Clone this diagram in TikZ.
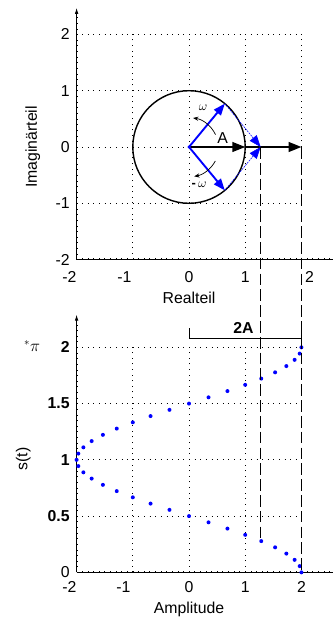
\documentclass[tikz,border=0pt]{standalone}
\usepackage{fontspec}
\setmainfont{Liberation Sans}
\usetikzlibrary{calc, positioning}
\usetikzlibrary{arrows.meta}

\newcommand{\figfont}{\fontsize{13.5}{16}\selectfont}

\tikzset{
  gridline/.style={line width=0.7pt, dash pattern=on 0.8pt off 4pt},
  longdash/.style={line width=0.7pt, dash pattern=on 10pt off 3.5pt},
  axisline/.style={line width=0.6pt},
  minortick/.style={line width=0.4pt},
  vecblue/.style={blue, line width=1.6pt, -{Triangle[length=10pt,width=7.5pt]}},
  projblue/.style={blue, line width=0.5pt, dash pattern=on 1.5pt off 0.8pt, -{Triangle[length=10pt,width=7.5pt]}},
  vecblack/.style={black, line width=1.2pt, -{Triangle[length=11pt,width=8.5pt]}},
  turn/.style={line width=0.6pt, -{Stealth[length=4.5pt,width=3.5pt]}},
  ticklab/.style={inner sep=0pt},
  boldlab/.style={inner sep=0pt, font=\figfont\bfseries},
  greek/.style={inner sep=0pt, font=\fontsize{11}{13}\selectfont},
}

\begin{document}
\begin{tikzpicture}[font=\figfont]
\useasboundingbox (0,0) rectangle (9.96,-18.57);
\def\ux{1.686}
\def\uyt{1.689}
\def\uyb{3.375}
\def\phase{0.28}
\pgfmathsetmacro{\ang}{\phase*180}
\pgfmathsetmacro{\xp}{2*cos(\ang)}

% Zeigerdiagramm
\begin{scope}[shift={(5.67,-4.41)}, x=\ux cm, y=\uyt cm]
  \coordinate (O) at (0,0);
  \coordinate (U) at (\ang:1);
  \coordinate (L) at (-\ang:1);
  \coordinate (S) at (\xp,0);
  \coordinate (E1) at (1,0);
  \coordinate (E2) at (2,0);

  \foreach \t in {-1.9,-1.8,...,2.45} {
    \draw[minortick] (-2,\t) -- ++(0.03,0);
  }
  \foreach \t in {-1.9,-1.8,...,2.55} {
    \draw[minortick] (\t,-2) -- ++(0,0.03);
  }

  \foreach \g in {-1,0,1,2} {
    \draw[gridline] (-2,\g) -- (2,\g);
  }
  \foreach \g in {-1,0,1} {
    \draw[gridline] (\g,-2) -- (\g,2);
  }
  \draw[gridline] (2,0) -- (2,2);

  \draw[axisline, -{Latex[length=5pt,width=3pt]}] (-2,-2) -- (-2,2.47);
  \draw[axisline] (-2,-2) -- (2.6,-2);

  \foreach \v/\n in {-2/a,-1/b,0/c,1/d,2/e} {
    \node[ticklab, anchor=east] (yl\n) at (-2.12,\v) {\v};
  }
  \node[ticklab, anchor=east] (xla) at (-2.0,-2.31) {-2};
  \node[ticklab, anchor=east] (xlb) at (-1.02,-2.31) {-1};
  \node[ticklab] (xlc) at (0,-2.31) {0};
  \node[ticklab] (xld) at (1,-2.31) {1};
  \node[ticklab, anchor=west] (xle) at (2.06,-2.31) {2};

  \node (real) at (0,-2.68) {Realteil};
  \node[rotate=90] (imag) at (-2.78,0) {Imaginärteil};

  \draw[line width=1.2pt] (O) circle (1);

  \draw[vecblack] (O) -- (E1);
  \draw[vecblack] (E1) -- (E2);
  \draw[projblue] (U) -- (S);
  \draw[projblue] (L) -- (S);
  \draw[vecblue] (O) -- (U);
  \draw[vecblue] (O) -- (L);
  \fill[blue] (O) circle (1.4pt);

  \draw[turn] (25:0.52) arc[start angle=25, end angle=82, radius=0.52];
  \draw[turn] (-28:0.53) arc[start angle=-28, end angle=-80, radius=0.53];
  \node[greek] (om) at (0.25,0.69) {$\omega$};
  \node[greek] (mom) at (0.18,-0.67) {\textbf{-}\,$\omega$};
  \node[inner sep=0pt] (amp) at (0.6,0.16) {A};
\end{scope}

% Zeitverlauf
\begin{scope}[shift={(5.67,-17.17)}, x=\ux cm, y=\uyb cm]
  \coordinate (Sb) at (\xp,\phase);
  \coordinate (E2b) at (2,0);

  \foreach \t in {0.05,0.1,...,2.26} {
    \draw[minortick] (-2,\t) -- ++(0.03,0);
  }
  \foreach \t in {-1.9,-1.8,...,2.55} {
    \draw[minortick] (\t,0) -- ++(0,0.015);
  }

  \foreach \g in {0.5,1,1.5,2} {
    \draw[gridline] (-2,\g) -- (2,\g);
  }
  \foreach \g in {-1,0,1} {
    \draw[gridline] (\g,0) -- (\g,2);
  }

  \draw[axisline, -{Latex[length=5pt,width=3pt]}] (-2,0) -- (-2,2.29);
  \draw[axisline] (-2,0) -- (2.6,0);

  \foreach \k in {0,...,36} {
    \fill[blue] ({2*cos(\k*10)},{\k/18}) circle (1.7pt);
  }

  \foreach \v/\n in {0.5/a,1/b,1.5/c,2/d} {
    \node[boldlab, anchor=east] (sl\n) at (-2.12,\v) {\v};
  }
  \node[ticklab, anchor=east] (sl0) at (-2.12,0) {0};
  \node[ticklab, anchor=east] (al1) at (-2.0,-0.13) {-2};
  \node[ticklab, anchor=east] (al2) at (-1.04,-0.13) {-1};
  \node[ticklab] (al3) at (0,-0.13) {0};
  \node[ticklab] (al4) at (1,-0.13) {1};
  \node[ticklab] (al5) at (2,-0.13) {2};

  \node (ampl) at (0,-0.326) {Amplitude};
  \node[rotate=90] (sig) at (-2.95,1.007) {s(t)};
  \node[inner sep=0pt] (pi) at (-2.79,2.01) {$^{*}\pi$};

  \draw[line width=0.6pt] (0,2.17) -- (0,2.083) -- (2,2.083) -- (2,2.17);
  \node[boldlab] (twoA) at (0.97,2.17) {2A};
\end{scope}

\draw[longdash] (S) -- (Sb);
\draw[longdash] (E2) -- (E2b);
\end{tikzpicture}
\end{document}
